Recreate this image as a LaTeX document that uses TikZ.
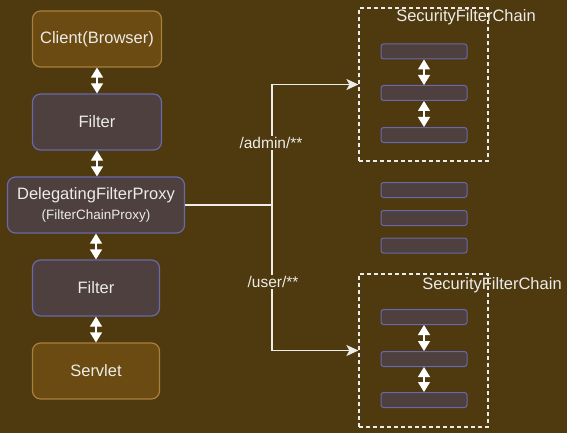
\documentclass[tikz,border=0pt]{standalone}
\usepackage{fontspec}
\setmainfont{Liberation Sans}
\usetikzlibrary{arrows.meta}
\definecolor{bgbrown}{RGB}{79,57,14}
\definecolor{goldfill}{RGB}{107,75,17}
\definecolor{goldline}{RGB}{168,128,62}
\definecolor{filterfill}{RGB}{77,64,62}
\definecolor{filterline}{RGB}{104,104,170}
\definecolor{lightline}{RGB}{236,236,232}
\begin{document}
\begin{tikzpicture}[x=1pt,y=-1pt,
    box/.style={draw, line width=1.2pt, rounded corners=8pt, minimum height=56pt, inner sep=0pt,
        text=lightline, align=center, font=\fontsize{16.5}{19}\selectfont},
    goldbox/.style={box, fill=goldfill, draw=goldline},
    filterbox/.style={box, fill=filterfill, draw=filterline},
    bar/.style={draw=filterline, fill=filterfill, line width=1pt, rounded corners=2.5pt,
        minimum width=86pt, minimum height=15pt, inner sep=0pt},
    chainbox/.style={draw=lightline, line width=1.2pt, dash pattern=on 4pt off 3pt,
        minimum width=129pt, minimum height=153pt, inner sep=0pt},
    chainlbl/.style={text=lightline, font=\fontsize{16.5}{19}\selectfont, inner sep=0pt},
    pathlbl/.style={text=lightline, fill=bgbrown, font=\fontsize{15.5}{18}\selectfont, inner sep=1pt},
    dbl/.style={draw=white, line width=1.2pt, {Triangle[width=12pt,length=10pt]}-{Triangle[width=12pt,length=10pt]}},
    route/.style={draw=lightline, line width=1.5pt, -{Stealth[length=12pt,width=11pt,inset=3pt]}}]
    \useasboundingbox[fill=bgbrown] (0,0) rectangle (567,433);
    \def\bx{424}

    \node[goldbox, minimum width=129pt] (client) at (97,39) {Client(Browser)};
    \node[filterbox, minimum width=129pt] (filterA) at (97,122) {Filter};
    \node[filterbox, minimum width=177pt] (proxy) at (96,205)
        {DelegatingFilterProxy\\[1.5pt]{\fontsize{13.5}{15}\selectfont (FilterChainProxy)}};
    \node[filterbox, minimum width=127pt] (filterB) at (96,288) {Filter};
    \node[goldbox, minimum width=127pt] (servlet) at (96,371) {Servlet};

    \draw[dbl] (client.south) -- (filterA.north);
    \draw[dbl] (filterA.south) -- (filterA.south |- proxy.north);
    \draw[dbl] (proxy.south) -- (filterB.north);
    \draw[dbl] (filterB.south) -- (servlet.north);

    \node[chainbox] (chainA) at (423.5,84.5) {};
    \node[chainlbl] (chainAlbl) at (466,17) {SecurityFilterChain};
    \node[bar] (barA1) at (\bx,51.5) {};
    \node[bar] (barA2) at (\bx,93) {};
    \node[bar] (barA3) at (\bx,135) {};
    \draw[dbl] (barA1.south) -- (barA2.north);
    \draw[dbl] (barA2.south) -- (barA3.north);

    \node[bar] (barM1) at (\bx,190) {};
    \node[bar] (barM2) at (\bx,218) {};
    \node[bar] (barM3) at (\bx,245.5) {};

    \node[chainbox] (chainB) at (423.5,350.5) {};
    \node[chainlbl] (chainBlbl) at (492,285) {SecurityFilterChain};
    \node[bar] (barB1) at (\bx,317) {};
    \node[bar] (barB2) at (\bx,359) {};
    \node[bar] (barB3) at (\bx,400) {};
    \draw[dbl] (barB1.south) -- (barB2.north);
    \draw[dbl] (barB2.south) -- (barB3.north);

    \coordinate (split) at (272,205);
    \draw[draw=lightline, line width=1.5pt] (proxy.east) -- (split);
    \draw[route] (split) |- (chainA.west);
    \draw[route] (split) |- (chainB.west);
    \node[pathlbl] (adminlbl) at (271,143) {/admin/**};
    \node[pathlbl] (userlbl) at (273,282) {/user/**};
\end{tikzpicture}
\end{document}
